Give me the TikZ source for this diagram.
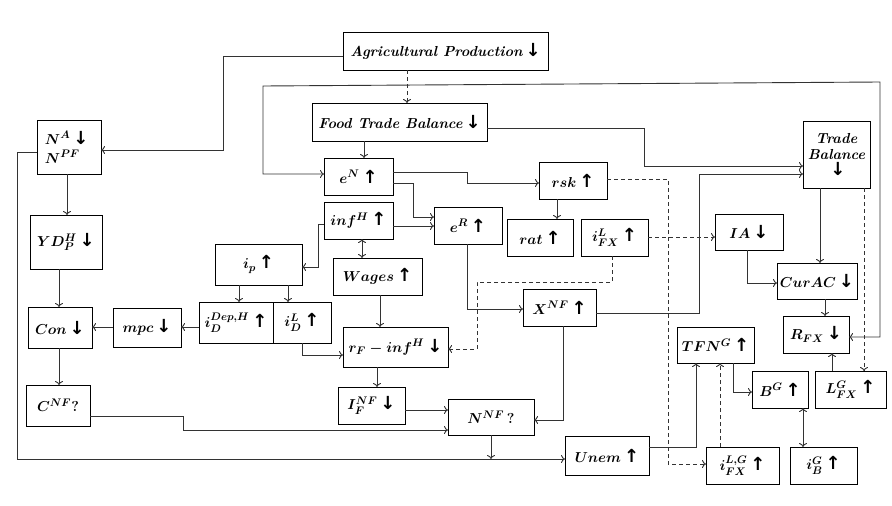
\documentclass[tikz,border=0pt]{standalone}
\usepackage{amsmath,bm}
\usepackage{fontspec}
\newfontfamily\arrfont{DejaVu Sans}
\usetikzlibrary{arrows.meta,calc}
\newcommand\UA{{\arrfont\bfseries\fontsize{18}{18}\selectfont\,↑}}
\newcommand\DA{{\arrfont\bfseries\fontsize{18}{18}\selectfont\,↓}}
\begin{document}
\begin{tikzpicture}[x=1pt,y=-1pt,
  box/.style={draw=black,line width=1pt,inner sep=0pt,outer sep=0pt,align=center,
    font=\fontsize{15}{18}\selectfont\bfseries\itshape\boldmath},
  arr/.style={draw=black!80,line width=0.9pt,-{To[length=4pt,width=8pt]}},
  darr/.style={draw=black!80,line width=0.9pt,{To[length=4pt,width=8pt]}-{To[length=4pt,width=8pt]}},
  dsh/.style={dash pattern=on 4pt off 3pt}]
\useasboundingbox (0,0) rectangle (892,506);
\newcommand\mybox[6]{\node[box,minimum width={#4-#2},minimum height={#5-#3}] (#1) at ({(#2+#4)/2},{(#3+#5)/2}) {#6};}
\mybox{agri}{343}{32}{548}{70}{\fontsize{14.5}{17}\selectfont Agricultural Production\DA}
\mybox{ftb}{312}{103}{487}{141}{\fontsize{14.5}{17}\selectfont Food Trade Balance\DA}
\node[box,align=left,minimum width=64,minimum height=54,text width=48] (na) at (69,147) {$N^{A}$\DA\\[1pt]$N^{PF}$};
\mybox{yd}{30}{215}{102}{269}{$YD_P^H$\DA}
\mybox{eN}{324}{158}{393}{195}{$e^N$\UA}
\mybox{infH}{324}{202}{393}{239}{$inf^H$\UA}
\mybox{eR}{434}{207}{502}{244}{$e^R$\UA}
\mybox{rsk}{539}{162}{607}{199}{$rsk$\UA}
\mybox{rat}{507}{219}{573}{256}{$rat$\UA}
\mybox{ifxl}{581}{219}{648}{256}{$i_{FX}^L$\UA}
\mybox{ia}{715}{214}{783}{250}{$IA$\DA}
\mybox{tb}{803}{121}{870}{188}{\fontsize{14.5}{17}\selectfont Trade\\[-2pt]\fontsize{14.5}{17}\selectfont Balance\\[-2pt]\DA}
\mybox{ip}{215}{244}{302}{285}{$i_p$\UA}
\mybox{wages}{333}{258}{422}{295}{$Wages$\UA}
\mybox{idh}{199}{302}{273}{343}{$i_D^{Dep,H}$\UA}
\mybox{idl}{273}{302}{331}{343}{$i_D^L$\UA}
\mybox{con}{28}{307}{92}{348}{$Con$\DA}
\mybox{mpc}{113}{308}{181}{347}{$mpc$\DA}
\mybox{rf}{343}{327}{448}{367}{$r_F-inf^H$\DA}
\mybox{xnf}{523}{289}{596}{326}{$X^{NF}$\UA}
\mybox{curac}{777}{263}{857}{299}{\fontsize{14}{17}\selectfont$CurAC$\DA}
\mybox{rfx}{783}{316}{849}{353}{$R_{FX}$\DA}
\mybox{tfn}{677}{327}{754}{363}{$TFN^G$\UA}
\mybox{bg}{752}{371}{808}{408}{$B^G$\UA}
\mybox{lfx}{815}{371}{886}{408}{$L_{FX}^G$\UA}
\mybox{cnf}{26}{385}{90}{426}{$C^{NF}?$}
\mybox{ifnf}{338}{387}{405}{424}{$I_F^{NF}$\DA}
\mybox{nnf}{448}{399}{534}{435}{$N^{NF}\,?$}
\mybox{unem}{565}{436}{649}{475}{$Unem$\UA}
\mybox{ifxlg}{706}{447}{779}{484}{$i_{FX}^{L,G}$\UA}
\mybox{ibg}{790}{447}{857}{484}{$i_B^G$\UA}
% connectors
\draw[arr] (agri.west|-0,56) -- (223,56) |- (na.east|-0,150);
\draw[arr,dsh] (agri.south-|407,0) -- (ftb.north-|407,0);
\draw[arr] (ftb.south-|364,0) -- (eN.north-|364,0);
\draw[arr] (ftb.east|-0,128) -- (644,128) |- (tb.west|-0,166);
\draw[arr] (xnf.east|-0,313) -- (699,313) |- (tb.west|-0,174);
\draw[arr] (eN.east|-0,172) -- (467,172) |- (rsk.west|-0,183);
\draw[arr] (eN.east|-0,183) -- (413,183) |- (eR.west|-0,217);
\draw[arr] (infH.east|-0,226) -- (eR.west|-0,226);
\draw[arr] (infH.west|-0,224) -- (318,224) |- (ip.east|-0,267);
\draw[darr] (infH.south-|362,0) -- (wages.north-|362,0);
\draw[arr] (ip.south-|239,0) -- (idh.north-|239,0);
\draw[arr] (ip.south-|288,0) -- (idl.north-|288,0);
\draw[arr] (idh.west|-0,327) -- (mpc.east|-0,327);
\draw[arr] (mpc.west|-0,327) -- (con.east|-0,327);
\draw[arr] (yd.south-|59,0) -- (con.north-|59,0);
\draw[arr] (na.south-|67,0) -- (yd.north-|67,0);
\draw[arr] (con.south-|59,0) -- (cnf.north-|59,0);
\draw[arr] (cnf.east|-0,416) -- (183,416) |- (nnf.west|-0,430);
\draw[arr] (ifnf.east|-0,410) -- (nnf.west|-0,410);
\draw[arr] (idl.south-|302,0) |- (rf.west|-0,355);
\draw[arr] (wages.south-|380,0) -- (rf.north-|380,0);
\draw[arr] (rf.south-|377,0) -- (ifnf.north-|377,0);
\draw[arr] (eR.south-|467,0) |- (xnf.west|-0,309);
\draw[arr,dsh] (ifxl.south-|612,0) -- (612,282) -- (477,282) |- (rf.east|-0,349);
\draw[arr] (rsk.south-|557,0) -- (rat.north-|557,0);
\draw[arr,dsh] (rsk.east|-0,179) -- (668,179) |- (ifxlg.west|-0,464);
\draw[arr,dsh] (ifxl.east|-0,237) -- (ia.west|-0,237);
\draw[arr] (ia.south-|747,0) |- (curac.west|-0,283);
\draw[arr] (tb.south-|820,0) -- (curac.north-|820,0);
\draw[arr,dsh] (tb.south-|864,0) -- (lfx.north-|864,0);
\draw[arr] (curac.south-|825,0) -- (rfx.north-|825,0);
\draw[arr] (lfx.north-|832,0) -- (rfx.south-|832,0);
\draw[arr] (xnf.south-|563,0) |- (nnf.east|-0,420);
\draw[arr] (unem.east|-0,447) -- (696,447) -- (tfn.south-|696,0);
\draw[arr,dsh] (ifxlg.north-|720,0) -- (tfn.south-|720,0);
\draw[arr] (tfn.south-|733,0) |- (bg.west|-0,392);
\draw[darr] (bg.south-|803,0) -- (ibg.north-|803,0);
\draw[arr] (na.west|-0,152) -- (17,152) |- (unem.west|-0,459);
\coordinate (nnfdrop) at (491,459);
\draw[arr] (nnf.south-|491,0) -- (nnfdrop);
\draw[darr] (eN.west|-0,174) -- (263,174) -- (263,86) -- (880,82) |- (rfx.east|-0,337);
\end{tikzpicture}
\end{document}
